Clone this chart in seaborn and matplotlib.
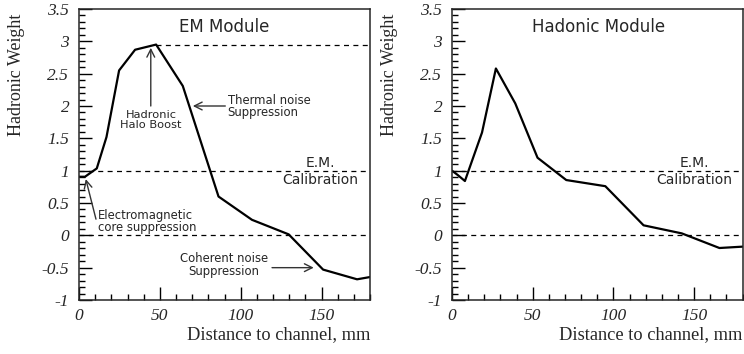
import numpy as np
import pandas as pd
import matplotlib
matplotlib.use('Agg')
import matplotlib.pyplot as plt
from matplotlib.ticker import MultipleLocator
import seaborn as sns

# EM module curve
em_dist = [0, 3.7, 11, 17, 24.8, 34.7, 47.7, 64.2, 86.3, 107, 129.7, 151, 172, 180]
em_weight = [0.906, 0.906, 1.035, 1.52, 2.55, 2.87, 2.95, 2.31, 0.60, 0.24, 0.015, -0.53, -0.68, -0.645]

# Hadronic module curve
had_dist = [0, 3.7, 8.0, 18.6, 27.2, 39.2, 53, 70.8, 95, 118.7, 142.4, 165.7, 180]
had_weight = [1.0, 0.93, 0.84, 1.59, 2.58, 2.04, 1.20, 0.855, 0.76, 0.155, 0.03, -0.196, -0.175]

em_peak_level = 2.94
em_calibration = 1.0

SANS = 'DejaVu Sans'
SERIF = 'Liberation Serif'
ARROW_COLOR = '#333333'


def style_axes(ax):
    ax.set_xlim(0, 180)
    ax.set_ylim(-1, 3.5)
    ax.xaxis.set_major_locator(MultipleLocator(50))
    ax.xaxis.set_minor_locator(MultipleLocator(10))
    ax.yaxis.set_major_locator(MultipleLocator(0.5))
    ax.yaxis.set_minor_locator(MultipleLocator(0.1))
    ax.tick_params(which='both', direction='in', left=True, bottom=True, top=False, right=False,
                   width=1.0, color='black')
    ax.tick_params(which='major', length=9.5)
    ax.tick_params(which='minor', length=4.5)
    ax.tick_params(axis='x', which='major', pad=6)
    ax.tick_params(axis='y', which='major', pad=7)
    ax.set_yticks(np.arange(-1, 3.51, 0.5))
    ax.set_yticklabels(['-1', '-0.5', '0', '0.5', '1', '1.5', '2', '2.5', '3', '3.5'])
    ax.set_xticks([0, 50, 100, 150])
    ax.set_xticklabels(['0', '50', '100', '150'])
    for lab in ax.get_xticklabels() + ax.get_yticklabels():
        lab.set_fontfamily(SERIF)
        lab.set_fontstyle('italic')
        lab.set_fontsize(12.5)
    for sp in ax.spines.values():
        sp.set_linewidth(1.1)
        sp.set_visible(True)
    ax.set_xlabel('Distance to channel, mm', loc='right', fontfamily=SERIF, fontsize=13.2)
    ax.set_ylabel('Hadronic Weight', loc='top', fontfamily=SERIF, fontsize=13)
    ax.xaxis.set_label_coords(1.0, -0.088)
    ax.yaxis.set_label_coords(-0.185, 0.985)
    ax.grid(False)


def dashed(ax, y, x0, x1):
    ax.plot([x0, x1], [y, y], color='black', lw=0.9, linestyle=(0, (4, 3.5)))


def note(ax, txt, x, y, ha='center', size=8.4):
    ax.text(x, y, txt, ha=ha, va='center', fontsize=size, fontfamily=SANS, linespacing=0.95)


def calib_note(ax, x):
    note(ax, 'E.M.', x, 1.125, size=10)
    note(ax, 'Calibration', x, 0.86, size=10)


def arrow(ax, start, end):
    ax.annotate('', xy=end, xytext=start,
                arrowprops=dict(arrowstyle='->', color=ARROW_COLOR, lw=1.0,
                                mutation_scale=14, shrinkA=0, shrinkB=0))


sns.set_style('white')
fig = plt.figure(figsize=(7.44, 3.54), dpi=100)
ax1 = fig.add_axes([79 / 744, 1 - 300 / 354, 291 / 744, 291 / 354])
ax2 = fig.add_axes([452 / 744, 1 - 300 / 354, 290.5 / 744, 291 / 354])

em = pd.DataFrame({'dist': em_dist, 'weight': em_weight})
had = pd.DataFrame({'dist': had_dist, 'weight': had_weight})

# left: EM module
dashed(ax1, em_calibration, 0, 180)
dashed(ax1, 0, 0, 180)
dashed(ax1, em_peak_level, 47.7, 180)
sns.lineplot(data=em, x='dist', y='weight', ax=ax1, color='black', lw=1.6, sort=False, estimator=None)
style_axes(ax1)
ax1.text(89.5, 3.22, 'EM Module', ha='center', va='center', fontsize=12, fontfamily=SANS)
calib_note(ax1, 149)
note(ax1, 'Hadronic\nHalo Boost', 44.5, 1.78, size=8.2)
arrow(ax1, (44.4, 2.0), (44.4, 2.9))
note(ax1, 'Thermal noise\nSuppression', 92, 1.99, ha='left')
arrow(ax1, (90.5, 2.0), (70.4, 2.0))
note(ax1, 'Electromagnetic\ncore suppression', 11.6, 0.215, ha='left')
arrow(ax1, (10.5, 0.25), (4.2, 0.87))
note(ax1, 'Coherent noise\nSuppression', 89.5, -0.455)
arrow(ax1, (119.4, -0.50), (145.2, -0.50))

# right: hadronic module
dashed(ax2, em_calibration, 0, 180)
dashed(ax2, 0, 0, 180)
sns.lineplot(data=had, x='dist', y='weight', ax=ax2, color='black', lw=1.6, sort=False, estimator=None)
style_axes(ax2)
ax2.text(90.8, 3.22, 'Hadonic Module', ha='center', va='center', fontsize=12, fontfamily=SANS)
calib_note(ax2, 150)

fig.savefig('out.png', dpi=100)
